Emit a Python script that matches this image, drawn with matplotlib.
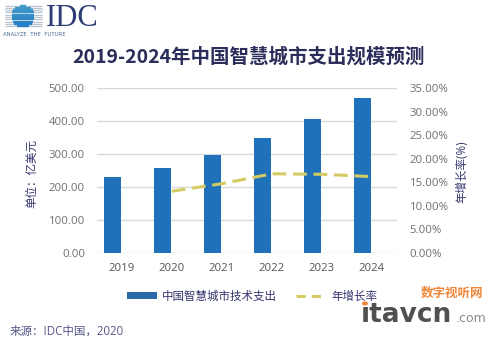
import matplotlib
matplotlib.use("Agg")
import matplotlib.pyplot as plt
import numpy as np
from matplotlib.lines import Line2D
from matplotlib.patches import Patch, Circle

plt.rcParams['font.family'] = ['Open Sans', 'Noto Sans CJK SC', 'DejaVu Sans']

# Data
years = ['2019', '2020', '2021', '2022', '2023', '2024']
spend = [229, 259, 297, 347, 405, 471]          # 亿美元
growth_years = ['2020', '2021', '2022', '2023', '2024']
growth = [13.1, 14.7, 16.8, 16.7, 16.2]          # %
left_ticks = [0, 100, 200, 300, 400, 500]
right_ticks = [0, 5, 10, 15, 20, 25, 30, 35]

title = '2019-2024年中国智慧城市支出规模预测'
bar_label = '中国智慧城市技术支出'
line_label = '年增长率'

BAR = '#1f72ba'
LINE = '#d6cb62'
NAVY = '#34346e'
TICK = '#6f6f6f'

W, H = 500, 345
fig = plt.figure(figsize=(5.0, 3.45), dpi=100, facecolor='white')

def fx(px):
    return px / W

def fy(py):
    return 1 - py / H

ax = fig.add_axes([fx(96.7), fy(253), fx(397) - fx(96.7), fy(88) - fy(253)])
ax.set_facecolor('none')
x = np.arange(len(years))
ax.bar(x - 0.19, spend, width=0.34, color=BAR, zorder=3)
ax.set_xlim(-0.5, 5.5)
ax.set_ylim(0, 500)
ax.set_yticks(left_ticks)
ax.set_yticklabels([f'{v:.2f}' for v in left_ticks])
ax.set_xticks(x)
ax.set_xticklabels(years)
ax.grid(axis='y', color='#d9d9d9', linewidth=1, zorder=0)
for s in ax.spines.values():
    s.set_visible(False)
ax.tick_params(axis='both', length=0, colors=TICK, labelsize=8.2)
ax.tick_params(axis='y', pad=8.5)
ax.tick_params(axis='x', pad=7, labelcolor='#555555')

ax2 = ax.twinx()
gx = [years.index(y) for y in growth_years]
ax2.plot(gx, growth, color=LINE, linewidth=2.2, dashes=(4.5, 2.2), zorder=4)
ax2.set_ylim(0, 35)
ax2.set_yticks(right_ticks)
ax2.set_yticklabels([f'{v:.2f}%' for v in right_ticks])
for s in ax2.spines.values():
    s.set_visible(False)
ax2.tick_params(axis='y', length=0, colors=TICK, labelsize=8.2, pad=9)

# Axis titles
fig.text(fx(32), fy(174), '单位：亿美元', rotation=90, ha='center', va='center',
         fontsize=8.3, color=NAVY)
fig.text(fx(462), fy(172), '年增长率(%)', rotation=90, ha='center', va='center',
         fontsize=8.3, color=NAVY)

# Title
fig.text(fx(249), fy(57), title, ha='center', va='center', fontsize=14,
         fontweight='bold', color='#2b2d5a', family=['Noto Sans CJK SC', 'DejaVu Sans'])

# Legend
handles = [Patch(facecolor='#2a6aa6', edgecolor='none'),
           Line2D([0], [0], color=LINE, linewidth=2.2, dashes=(3, 2))]
fig.legend(handles, [bar_label, line_label], ncol=2, loc='center',
           bbox_to_anchor=(fx(252), fy(296)), frameon=False, fontsize=8.3,
           handlelength=2.6, handleheight=0.5, columnspacing=1.6, handletextpad=0.5,
           labelcolor=NAVY, borderpad=0.2)

# Source
fig.text(fx(10), fy(331), '来源：IDC中国，2020', ha='left', va='center',
         fontsize=8.3, color='#56568a')

# IDC logo
lg = fig.add_axes([0, fy(42), fx(112), 42 / H])
lg.set_xlim(0, 112)
lg.set_ylim(42, 0)
lg.axis('off')
cx, cy, r = 23, 16.5, 11.5
for yy in np.arange(5.5, 28.5, 2.3):
    lg.plot([5, 42], [yy, yy], color='#b9c4cf', linewidth=0.9, solid_capstyle='butt')
    dy = yy - cy
    if abs(dy) < r:
        hw = np.sqrt(r * r - dy * dy)
        shade = 0.35 + 0.5 * (yy - 5) / 23
        col = (0.10 + 0.25 * (1 - shade), 0.45 + 0.25 * (1 - shade), 0.78)
        lg.plot([cx - hw, cx + hw], [yy, yy], color=col, linewidth=1.7,
                solid_capstyle='butt')
lg.text(46, 18.5, 'IDC', fontsize=22, color='#2d3d74', va='center', ha='left',
        family='Liberation Serif')
lg.text(3, 35, 'ANALYZE  THE  FUTURE', fontsize=3.9, color='#4a6a90', va='center',
        ha='left', family='DejaVu Sans')

# Site mark
fig.text(fx(421), fy(293), '数字视听网', fontsize=9, color='#f0863a', fontweight='bold',
         ha='left', va='center', family=['Noto Sans CJK SC', 'DejaVu Sans'])
fig.text(fx(361), fy(322), '\u0131tavcn', fontsize=19, color='#505050', ha='left',
         va='baseline', family='DejaVu Sans', fontweight='semibold')
fig.text(fx(456), fy(322), '.com', fontsize=9, color='#8a8a8a', ha='left',
         va='baseline', family='DejaVu Sans')
fig.patches.append(Circle((fx(365), fy(303.5)), 3.0 / W, transform=fig.transFigure,
                          facecolor='#f0863a', edgecolor='none', zorder=5))

fig.savefig('out.png', dpi=100, facecolor='white')
